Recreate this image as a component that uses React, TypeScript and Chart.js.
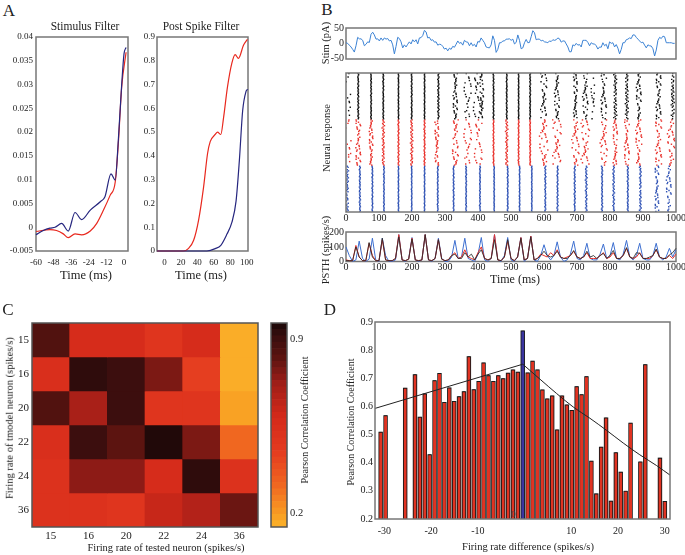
import React, { useEffect, useRef } from "react";
import { Chart, registerables } from "chart.js";

Chart.register(...registerables);

const FONT = "'Liberation Serif', 'Times New Roman', Times, serif";
const INK = "#222222";
const FRAME = "#777777";
const NAVY = "#26267f";
const RED_LINE = "#e8281e";

// ===== Panel A: filters =====
const stimFilterBlueTime = [-60, -55, -50.5, -47, -42.5, -38, -33.4, -28.9, -23, -16, -13, -8.9, -6, -3.9, -1.6, 0, 1.4];
const stimFilterBlue = [-0.0016, -0.0007, -0.0002, 0, 0.0008, -0.0008, 0.0031, 0.0016, 0.0036, 0.0054, 0.0064, 0.0112, 0.0099, 0.0183, 0.03, 0.0365, 0.0378];
const stimFilterRedTime = [-60, -50.5, -46, -41.4, -38, -33.4, -28.9, -23, -18.6, -14, -9.5, -6, -3.9, -1.6, 1.4];
const stimFilterRed = [-0.0009, -0.0005, -0.0007, -0.0014, -0.0022, -0.0014, -0.0016, -0.0008, 0.0008, 0.0036, 0.0067, 0.0095, 0.0176, 0.0295, 0.0368];
const stimFilterXTicks = [-60, -48, -36, -24, -12, 0];
const stimFilterYTicks = [-0.005, 0, 0.005, 0.01, 0.015, 0.02, 0.025, 0.03, 0.035, 0.04];

const postSpikeRedTime = [-9, 23, 29, 35.5, 41.5, 47.6, 52.4, 55.6, 61.7, 64.5, 68.5, 71.8, 76.6, 81.9, 85.9, 89.9, 96, 100.8];
const postSpikeRed = [0, 0, 0.01, 0.045, 0.13, 0.27, 0.41, 0.46, 0.49, 0.5, 0.49, 0.56, 0.69, 0.79, 0.826, 0.81, 0.865, 0.89];
const postSpikeBlueTime = [-9, 51.6, 61.7, 68.5, 75.8, 81.9, 87, 91, 95, 99, 101.2];
const postSpikeBlue = [0, 0, 0.01, 0.024, 0.07, 0.12, 0.21, 0.38, 0.59, 0.67, 0.68];
const postSpikeXTicks = [0, 20, 40, 60, 80, 100];
const postSpikeYTicks = [0, 0.1, 0.2, 0.3, 0.4, 0.5, 0.6, 0.7, 0.8, 0.9];

// ===== Panel B: stimulus, raster, PSTH =====
const STIM_DT = 5.055; // ms between stimulus samples
const stimulus = [2, 0, -6, -12, -20, -29, -8, 20, 15, 15, 10, -8, -3, 5, 3, 30, 37, 28, 14, 15, 8, 18, 10, 18, 14, 16, 8, 10, -5, -35, -10, 20, 16, 5, -15, -5, -12, -3, 5, -2, 12, 5, 12, -2, 18, 19, 26, 43, 38, 18, 20, 10, 12, 4, 5, -6, -3, -4, -10, -19, -16, -25, -16, -20, -10, -13, -3, 8, 0, 3, -6, 10, 5, 4, -8, 2, -8, -3, -12, 6, 4, 18, 10, 2, -12, -14, -15, -5, 25, 10, -30, -20, 2, 2, 8, 8, 14, 14, 15, 10, 14, -2, 3, 28, 10, -18, -15, 2, 13, 2, 3, 22, 42, 35, 12, 14, 14, 8, 10, 5, 4, 2, 8, 6, 12, 10, 12, 18, 15, 4, 8, 8, -2, -12, -28, -28, -5, -8, 0, -6, -4, -12, 10, 10, 10, 3, -8, 2, -2, -2, -8, -19, -12, -13, 2, -8, -3, -18, 5, 0, 2, -12, -4, -16, -35, -20, 2, 2, 12, 14, 18, 16, 28, 28, 20, 14, 8, 2, 4, -6, -15, -5, -8, -9, -18, -42, -22, 10, 20, 16, 24, 22, 2, 2, 2, 2, 0, 0];
const stimTicks = [-50, 0, 50];
const timeTicks = [0, 100, 200, 300, 400, 500, 600, 700, 800, 900, 1000];

const RASTER_TRIALS = 40;
const WIGGLE = [0, 0.3, 0.6, 0.8, 0.6, 0.3, 0.1, -0.2, -0.5, -0.7, -0.6, -0.3, 0, 0.2, 0.5, 0.7, 0.9, 0.7, 0.4, 0.1, -0.1, -0.4, -0.6, -0.8, -0.9, -0.6, -0.3, 0, 0.3, 0.5, 0.3, 0.1, -0.2, -0.4, -0.3, -0.1, 0.1];
const SCATTER = [0.1, -0.4, 0.7, -0.2, 0.3, -0.8, 0.5, 0.0, -0.6, 0.9, -0.1, 0.4, -0.7, 0.2, -0.3, 0.8, -0.5, 0.6, -0.9, 0.1, 0.3, -0.2, 0.7, -0.4, 0.0, 0.5, -0.8, 0.2, -0.6, 0.9, -0.3];
const KEEP = [0.12, 0.55, 0.83, 0.27, 0.64, 0.05, 0.91, 0.38, 0.72, 0.19, 0.47, 0.98, 0.33, 0.61, 0.08, 0.86, 0.42, 0.24, 0.69, 0.51, 0.95, 0.15, 0.77, 0.36, 0.58, 0.02, 0.88, 0.45, 0.67];
// [spike time (ms), jitter (ms), reliability]
const rasterBlack = [[8, 8, 0.25], [37, 2, 1], [76, 1.5, 1], [113, 1.5, 1], [159, 1, 1], [199, 1.5, 1], [238, 1, 1], [280, 2.5, 1], [331, 7, 0.95], [368, 12, 0.55], [396, 12, 0.6], [411, 6, 0.8], [447, 1.5, 1], [487, 1.5, 1], [523, 1, 1], [558, 1.5, 1], [599, 10, 0.85], [639, 8, 0.9], [695, 6, 0.9], [725, 9, 0.85], [748, 6, 0.4], [781, 9, 0.85], [816, 5, 0.95], [851, 5, 0.95], [887, 8, 0.9], [947, 8, 0.9], [990, 5, 0.9]];
const rasterRed = [[8, 10, 0.3], [37, 8, 0.9], [76, 6, 0.95], [113, 4, 1], [159, 2, 1], [199, 4, 1], [238, 2, 1], [275, 6, 0.9], [331, 10, 0.8], [368, 13, 0.6], [400, 13, 0.6], [447, 1.5, 1], [487, 4, 1], [523, 1.5, 1], [558, 1.5, 1], [599, 14, 0.85], [639, 14, 0.85], [695, 12, 0.8], [725, 14, 0.8], [781, 12, 0.8], [816, 7, 0.85], [851, 8, 0.85], [887, 10, 0.85], [947, 10, 0.85], [985, 12, 0.8]];
const rasterBlue = [[4, 4, 0.9], [42, 2, 1], [80, 1.5, 1], [115, 1.5, 1], [159, 1, 1], [199, 1, 1], [238, 1, 1], [278, 1.5, 1], [326, 1.5, 1], [364, 1.5, 1], [406, 1.5, 1], [449, 1, 1], [490, 1.5, 1], [526, 1, 1], [563, 1, 1], [604, 2, 1], [641, 2, 1], [693, 2, 1], [728, 3, 1], [776, 2, 1], [811, 3, 1], [854, 2, 1], [892, 3, 0.95], [942, 6, 0.9], [978, 8, 0.85]];

const PSTH_BIN = 10;
const psthBlue = [100, 40, 0, 10, 140, 20, 0, 15, 160, 10, 0, 160, 40, 0, 0, 10, 185, 10, 0, 20, 165, 10, 0, 10, 185, 10, 0, 20, 160, 20, 0, 0, 30, 145, 20, 30, 160, 20, 10, 0, 50, 165, 10, 0, 20, 185, 10, 0, 40, 165, 10, 0, 30, 165, 0, 20, 175, 10, 0, 40, 115, 40, 10, 40, 135, 30, 0, 10, 50, 140, 20, 10, 40, 125, 20, 10, 10, 50, 120, 20, 40, 130, 20, 10, 50, 145, 30, 10, 40, 125, 20, 10, 10, 40, 125, 30, 10, 30, 90, 30, 80];
const psthRed = [10, 5, 5, 110, 30, 5, 5, 125, 40, 5, 5, 150, 10, 5, 5, 20, 185, 10, 5, 15, 160, 10, 5, 10, 185, 10, 5, 20, 150, 15, 5, 10, 40, 60, 20, 30, 80, 30, 20, 10, 60, 100, 20, 10, 20, 185, 10, 5, 30, 140, 20, 5, 30, 165, 10, 20, 175, 10, 20, 50, 40, 30, 60, 40, 80, 30, 20, 30, 40, 70, 30, 20, 30, 60, 20, 20, 20, 40, 60, 20, 30, 60, 20, 20, 40, 90, 30, 20, 30, 60, 20, 20, 20, 40, 80, 30, 20, 20, 40, 20, 50];
const psthBlack = [5, 5, 5, 100, 30, 5, 5, 130, 30, 5, 5, 160, 10, 5, 5, 20, 170, 10, 5, 15, 155, 10, 5, 10, 185, 10, 5, 20, 150, 15, 5, 10, 40, 50, 20, 20, 60, 30, 50, 10, 50, 80, 20, 10, 20, 150, 10, 5, 30, 150, 20, 5, 30, 160, 10, 20, 170, 10, 20, 40, 70, 40, 30, 40, 70, 30, 20, 20, 40, 75, 30, 20, 30, 70, 30, 40, 20, 40, 55, 20, 40, 75, 20, 20, 40, 95, 30, 20, 60, 55, 20, 20, 30, 40, 85, 30, 20, 20, 45, 60, 90];
const psthTicks = [0, 100, 200];

// ===== Panel C: correlation matrix =====
const testedRates = ["15", "16", "20", "22", "24", "36"];
const modelRates = ["15", "16", "20", "22", "24", "36"];
const corrRow15 = [0.86, 0.57, 0.57, 0.5, 0.56, 0.17];
const corrRow16 = [0.55, 0.93, 0.91, 0.77, 0.44, 0.16];
const corrRow20 = [0.86, 0.7, 0.91, 0.5, 0.5, 0.18];
const corrRow22 = [0.55, 0.91, 0.82, 0.95, 0.77, 0.32];
const corrRow24 = [0.51, 0.76, 0.76, 0.56, 0.93, 0.51];
const corrRow36 = [0.51, 0.53, 0.5, 0.62, 0.66, 0.81];
const corrRows = [corrRow15, corrRow16, corrRow20, corrRow22, corrRow24, corrRow36];
const CB_MIN = 0.146;
const CB_MAX = 0.967;
const CB_LEVELS = 32;
const colorbarTicks = [0.2, 0.9];

// ===== Panel D: correlation vs rate difference =====
const corrByDiff = [0.51, 0.569, null, null, null, 0.666, null, 0.714, 0.563, 0.646, 0.43, 0.693, 0.719, 0.616, 0.667, 0.619, 0.636, 0.654, 0.778, 0.661, 0.69, 0.756, 0.711, 0.69, 0.711, 0.7, 0.72, 0.731, 0.723, 0.87, 0.721, 0.762, 0.731, 0.66, 0.628, 0.639, 0.518, 0.639, 0.607, 0.587, 0.672, 0.643, 0.707, 0.407, 0.291, 0.457, 0.561, 0.265, 0.437, 0.368, 0.3, 0.542, null, 0.404, 0.75, null, null, 0.418, 0.264];
const SAME_RATE_SLOT = 29;
const fitRiseSlot = [-1.16, 29];
const fitRise = [0.593, 0.75];
const fitFallSlot = [29, 32.5, 35.9, 39.3, 42.7, 46.1, 49.5, 52.9, 56.3, 59.05];
const fitFall = [0.75, 0.697, 0.646, 0.598, 0.558, 0.515, 0.47, 0.428, 0.39, 0.356];
const diffTicks = [-30, -20, -10, 10, 20, 30];
const ZERO_LABEL_AT = -2.4;
const corrTicks = [0.2, 0.3, 0.4, 0.5, 0.6, 0.7, 0.8, 0.9];

// ---------- helpers ----------
const CMAP_STOPS: [number, string][] = [
  [0.146, "#fbb22a"], [0.185, "#f9a224"], [0.318, "#f06520"], [0.454, "#e43a20"],
  [0.587, "#d42a1a"], [0.72, "#a01e18"], [0.82, "#5e1410"], [0.908, "#3a0e0e"], [0.967, "#1a0808"],
];
function hexToRgb(h: string) {
  return [parseInt(h.slice(1, 3), 16), parseInt(h.slice(3, 5), 16), parseInt(h.slice(5, 7), 16)];
}
function cmapRaw(v: number) {
  if (v <= CMAP_STOPS[0][0]) return CMAP_STOPS[0][1];
  for (let i = 1; i < CMAP_STOPS.length; i++) {
    const [v1, c1] = CMAP_STOPS[i];
    const [v0, c0] = CMAP_STOPS[i - 1];
    if (v <= v1) {
      const t = (v - v0) / (v1 - v0);
      const a = hexToRgb(c0), b = hexToRgb(c1);
      const m = a.map((x, k) => Math.round(x + (b[k] - x) * t));
      return `rgb(${m[0]},${m[1]},${m[2]})`;
    }
  }
  return CMAP_STOPS[CMAP_STOPS.length - 1][1];
}
function cmap(v: number) {
  const step = (CB_MAX - CB_MIN) / CB_LEVELS;
  let idx = Math.floor((v - CB_MIN) / step);
  idx = Math.max(0, Math.min(CB_LEVELS - 1, idx));
  return cmapRaw(CB_MIN + (idx + 0.5) * step);
}

function pts(xs: number[], ys: number[]) {
  return xs.map((x, i) => ({ x, y: ys[i] }));
}

function rasterPoints(events: number[][], rowOffset: number) {
  const out: { x: number; y: number }[] = [];
  events.forEach(([t, sp, rel], c) => {
    for (let r = 0; r < RASTER_TRIALS; r++) {
      if (KEEP[(r * 3 + c * 7) % KEEP.length] > rel) continue;
      const j = sp >= 6 ? SCATTER[(r * 7 + c * 5) % SCATTER.length] : WIGGLE[(r * 4 + c * 11) % WIGGLE.length];
      out.push({ x: t + sp * j, y: rowOffset + (RASTER_TRIALS - 1 - r) });
    }
  });
  return out;
}

type AxisOpts = {
  min?: number; max?: number; ticks?: number[]; fmt?: (v: number) => string; size?: number;
  pad?: number; fit?: number; display?: boolean; position?: string; type?: string; offset?: boolean; axis?: string;
};
function axis(o: AxisOpts, isX: boolean) {
  const tickOpts: any = {
    display: true, autoSkip: false, maxRotation: 0, minRotation: 0,
    padding: o.pad ?? 3, color: INK, font: { family: FONT, size: o.size ?? 10 },
  };
  if (o.fmt) tickOpts.callback = (v: any) => o.fmt!(Number(v));
  const a: any = {
    type: o.type ?? "linear",
    display: o.display ?? true,
    offset: o.offset ?? false,
    grid: { display: false, drawTicks: false, offset: o.offset ?? false },
    border: { display: false },
    ticks: tickOpts,
    afterFit: (s: any) => {
      if (o.fit !== undefined) {
        if (isX) s.height = o.fit; else s.width = o.fit;
      }
      s.paddingLeft = 0; s.paddingRight = 0; s.paddingTop = 0; s.paddingBottom = 0;
    },
  };
  if (o.axis) a.axis = o.axis;
  if (o.position) a.position = o.position;
  if (o.min !== undefined) a.min = o.min;
  if (o.max !== undefined) a.max = o.max;
  if (o.ticks) a.afterBuildTicks = (s: any) => { s.ticks = o.ticks!.map((v) => ({ value: v })); };
  return a;
}

const plain = (v: number) => String(v);

const framePlugin = {
  id: "frame",
  beforeDatasetsDraw(chart: any, _a: any, o: any) { if (o && o.color && !o.onTop) drawFrame(chart, o); },
  afterDatasetsDraw(chart: any, _a: any, o: any) { if (o && o.color && o.onTop) drawFrame(chart, o); },
};
function drawFrame(chart: any, o: any) {
  const { ctx, chartArea: a } = chart;
  ctx.save();
  ctx.strokeStyle = o.color;
  ctx.lineWidth = o.width ?? 1.5;
  ctx.strokeRect(a.left, a.top, a.right - a.left, a.bottom - a.top);
  ctx.restore();
}

const zeroLabelPlugin = {
  id: "zeroLabel",
  afterDatasetsDraw(chart: any) {
    const { ctx, chartArea: a } = chart;
    const sx = chart.scales.x2;
    ctx.save();
    ctx.fillStyle = "#444";
    ctx.font = `9px ${FONT}`;
    ctx.textAlign = "center";
    ctx.textBaseline = "bottom";
    ctx.fillText("0", sx.getPixelForValue(ZERO_LABEL_AT), a.bottom);
    ctx.restore();
  },
};

function base(padding: any, frame: any) {
  return {
    animation: false, responsive: false, maintainAspectRatio: false, events: [],
    layout: { padding },
    plugins: { legend: { display: false }, tooltip: { enabled: false }, title: { display: false }, frame },
  };
}

function lineDs(xs: number[], ys: number[], color: string, width: number, extra: any = {}) {
  return { type: "line", data: pts(xs, ys), borderColor: color, backgroundColor: color, borderWidth: width, pointRadius: 0, fill: false, clip: 3, ...extra };
}

// ---------- configs ----------
const cfgStimFilter = () => ({
  type: "line",
  data: {
    datasets: [
      lineDs(stimFilterBlueTime, stimFilterBlue, NAVY, 1.2, { cubicInterpolationMode: "monotone" }),
      lineDs(stimFilterRedTime, stimFilterRed, RED_LINE, 1.2, { cubicInterpolationMode: "monotone" }),
    ],
  },
  options: {
    ...base({ top: 7, right: 6, bottom: 0, left: 0 }, { color: FRAME, width: 1.5 }),
    scales: {
      x: axis({ min: -60, max: 2.7, ticks: stimFilterXTicks, size: 9, pad: 6, fit: 34, fmt: plain }, true),
      y: axis({ min: -0.005, max: 0.04, ticks: stimFilterYTicks, size: 9, pad: 3, fit: 36, fmt: (v) => String(Number(v.toFixed(3))) }, false),
    },
  },
  plugins: [framePlugin],
});

const cfgPostSpike = () => ({
  type: "line",
  data: {
    datasets: [
      lineDs(postSpikeBlueTime, postSpikeBlue, NAVY, 1.2, { cubicInterpolationMode: "monotone" }),
      lineDs(postSpikeRedTime, postSpikeRed, RED_LINE, 1.2, { cubicInterpolationMode: "monotone" }),
    ],
  },
  options: {
    ...base({ top: 7, right: 6, bottom: 0, left: 0 }, { color: FRAME, width: 1.5 }),
    scales: {
      x: axis({ min: -9, max: 101.5, ticks: postSpikeXTicks, size: 9, pad: 6, fit: 34, fmt: plain }, true),
      y: axis({ min: 0, max: 0.9, ticks: postSpikeYTicks, size: 9, pad: 2, fit: 25, fmt: (v) => (v === 0 ? "0" : v.toFixed(1)) }, false),
    },
  },
  plugins: [framePlugin],
});

const cfgStim = () => ({
  type: "line",
  data: {
    datasets: [lineDs(stimulus.map((_, i) => i * STIM_DT), stimulus, "#3b82d4", 1)],
  },
  options: {
    ...base({ top: 8, right: 9, bottom: 3, left: 0 }, { color: FRAME, width: 1.5 }),
    scales: {
      x: axis({ min: 0, max: 1000, display: false }, true),
      y: axis({ min: -52, max: 51, ticks: stimTicks, size: 10, pad: 2, fit: 36, fmt: plain }, false),
    },
  },
  plugins: [framePlugin],
});

const rasterDot = { pointRadius: 1, pointStyle: "rect", pointBorderWidth: 0 };
const cfgRaster = () => ({
  type: "scatter",
  data: {
    datasets: [
      { data: rasterPoints(rasterBlack, 80), backgroundColor: "#111111", ...rasterDot },
      { data: rasterPoints(rasterRed, 40), backgroundColor: "#e8302a", ...rasterDot },
      { data: rasterPoints(rasterBlue, 0), backgroundColor: "#2f52b4", ...rasterDot },
    ],
  },
  options: {
    ...base({ top: 7, right: 9, bottom: 0, left: 36 }, { color: FRAME, width: 1.5, onTop: true }),
    scales: {
      x: axis({ min: 0, max: 1000, ticks: timeTicks, size: 10, pad: 0, fit: 14, fmt: plain }, true),
      y: axis({ min: -0.5, max: 3 * RASTER_TRIALS - 0.5, display: false }, false),
    },
  },
  plugins: [framePlugin],
});

const cfgPsth = () => {
  const t = psthBlue.map((_, i) => i * PSTH_BIN);
  return {
    type: "line",
    data: {
      datasets: [
        lineDs(t, psthBlack, "rgba(40,40,40,0.85)", 1),
        lineDs(t, psthRed, "#e8302a", 1),
        lineDs(t, psthBlue, "#3d6fd0", 1),
      ],
    },
    options: {
      ...base({ top: 6, right: 9, bottom: 0, left: 0 }, { color: FRAME, width: 1.5 }),
      scales: {
        x: axis({ min: 0, max: 1000, ticks: timeTicks, size: 10, pad: 0, fit: 14.5, fmt: plain }, true),
        y: axis({ min: -1, max: 203, ticks: psthTicks, size: 10, pad: 2, fit: 36, fmt: plain }, false),
      },
    },
    plugins: [framePlugin],
  };
};

const cfgHeatmap = () => ({
  type: "bar",
  data: {
    labels: testedRates,
    datasets: corrRows.map((row, r) => ({
      data: row.map(() => [modelRates.length - 1 - r, modelRates.length - r]),
      backgroundColor: row.map((v) => cmap(v)),
      borderWidth: 0,
      barPercentage: 1,
      categoryPercentage: 1,
      grouped: false,
    })),
  },
  options: {
    ...base({ top: 8, right: 4, bottom: 0, left: 0 }, { color: "#555555", width: 1.5, onTop: true }),
    scales: {
      x: axis({ type: "category", offset: true, size: 11, pad: 3, fit: 20 }, true),
      y: axis({
        min: 0, max: modelRates.length, ticks: [0.5, 1.5, 2.5, 3.5, 4.5, 5.5], size: 11, pad: 3, fit: 32,
        fmt: (v) => modelRates[modelRates.length - 1 - Math.floor(v)],
      }, false),
    },
  },
  plugins: [framePlugin],
});

const cfgColorbar = () => {
  const step = (CB_MAX - CB_MIN) / CB_LEVELS;
  const bands = Array.from({ length: CB_LEVELS }, (_, i) => i);
  return {
    type: "bar",
    data: {
      labels: [""],
      datasets: bands.map((i) => ({
        data: [[CB_MIN + i * step, CB_MIN + (i + 1) * step]],
        backgroundColor: cmapRaw(CB_MIN + (i + 0.5) * step),
        borderWidth: 0,
        barPercentage: 1,
        categoryPercentage: 1,
        grouped: false,
      })),
    },
    options: {
      ...base({ top: 8, right: 0, bottom: 20, left: 9 }, { color: "#555555", width: 1.5, onTop: true }),
      scales: {
        x: axis({ type: "category", offset: true, display: false }, true),
        y: axis({ min: CB_MIN, max: CB_MAX, ticks: colorbarTicks, position: "right", size: 10.5, pad: 3, fit: 25, fmt: (v) => v.toFixed(1) }, false),
      },
    },
    plugins: [framePlugin],
  };
};

const cfgDiff = () => {
  const bars: { x: number; y: number }[] = [];
  const barColors: string[] = [];
  corrByDiff.forEach((v, k) => {
    if (v === null) return;
    bars.push({ x: k, y: v });
    barColors.push(k === SAME_RATE_SLOT ? "#3a34a0" : "#e03322");
  });
  return {
    type: "bar",
    data: {
      datasets: [
        { type: "line", data: pts(fitRiseSlot, fitRise), borderColor: "#222", borderWidth: 1, pointRadius: 0, order: 0, xAxisID: "x", yAxisID: "y" },
        { type: "line", data: pts(fitFallSlot, fitFall), borderColor: "#222", borderWidth: 1, pointRadius: 0, order: 0, cubicInterpolationMode: "monotone", xAxisID: "x", yAxisID: "y" },
        {
          // coloured body of each bar, with a dark top edge
          type: "bar", data: bars, order: 1, xAxisID: "x", yAxisID: "y", grouped: false,
          backgroundColor: barColors, borderColor: "#1a1a1a",
          borderWidth: { top: 1, left: 0, right: 0, bottom: 0 }, borderSkipped: "start",
          barPercentage: 0.62, categoryPercentage: 1, inflateAmount: 0,
        },
        {
          // dark outline behind each bar
          type: "bar", data: bars, order: 2, xAxisID: "x", yAxisID: "y", grouped: false,
          backgroundColor: "#1a1a1a", borderWidth: 0,
          barPercentage: 0.9, categoryPercentage: 1, inflateAmount: 0,
        },
      ],
    },
    options: {
      ...base({ top: 10, right: 15, bottom: 0, left: 0 }, { color: FRAME, width: 1.5, onTop: true }),
      scales: {
        x: axis({ min: -1.16, max: 59.05, display: false }, true),
        x2: axis({ axis: "x", position: "bottom", min: -32, max: 31.1, ticks: diffTicks, size: 10, pad: 6, fit: 25, fmt: plain }, true),
        y: axis({ min: 0.2, max: 0.9, ticks: corrTicks, size: 10, pad: 2, fit: 35, fmt: (v) => v.toFixed(1) }, false),
      },
    },
    plugins: [framePlugin, zeroLabelPlugin],
  };
};

// ---------- components ----------
function ChartCanvas({ left, top, width, height, config }: { left: number; top: number; width: number; height: number; config: () => any }) {
  const ref = useRef<HTMLCanvasElement>(null);
  useEffect(() => {
    const chart = new Chart(ref.current as HTMLCanvasElement, config());
    return () => chart.destroy();
  }, []);
  return <canvas ref={ref} width={width} height={height} style={{ position: "absolute", left, top, width, height }} />;
}

function Text({ x, y, size, rotate, children }: { x: number; y: number; size: number; rotate?: boolean; children: any }) {
  return (
    <div
      style={{
        position: "absolute", left: x, top: y, transform: `translate(-50%, -50%)${rotate ? " rotate(-90deg)" : ""}`,
        whiteSpace: "nowrap", fontFamily: FONT, fontSize: size, lineHeight: 1, color: INK,
      }}
    >
      {children}
    </div>
  );
}

export default function App() {
  return (
    <div style={{ position: "absolute", left: 0, top: 0, width: 685, height: 555, background: "#ffffff", overflow: "hidden" }}>
      <ChartCanvas left={0} top={30} width={134} height={255} config={cfgStimFilter} />
      <ChartCanvas left={132} top={30} width={122} height={255} config={cfgPostSpike} />
      <ChartCanvas left={310} top={20} width={375} height={42} config={cfgStim} />
      <ChartCanvas left={310} top={66} width={375} height={160} config={cfgRaster} />
      <ChartCanvas left={310} top={226} width={375} height={50} config={cfgPsth} />
      <ChartCanvas left={0} top={315} width={262} height={232} config={cfgHeatmap} />
      <ChartCanvas left={262} top={315} width={50} height={232} config={cfgColorbar} />
      <ChartCanvas left={340} top={312} width={345} height={232} config={cfgDiff} />

      <Text x={9} y={10} size={17}>A</Text>
      <Text x={327} y={9} size={17}>B</Text>
      <Text x={8} y={309} size={17}>C</Text>
      <Text x={330} y={309} size={17}>D</Text>

      <Text x={85} y={27} size={11.5}>Stimulus Filter</Text>
      <Text x={201} y={27} size={11.5}>Post Spike Filter</Text>
      <Text x={86} y={275} size={12.5}>Time (ms)</Text>
      <Text x={201} y={275} size={12.5}>Time (ms)</Text>

      <Text x={326} y={43} size={10.5} rotate>Stim (pA)</Text>
      <Text x={327} y={138} size={10.5} rotate>Neural response</Text>
      <Text x={326} y={250} size={10.5} rotate>PSTH (spikes/s)</Text>
      <Text x={515} y={279} size={12}>Time (ms)</Text>

      <Text x={10} y={418} size={10.5} rotate>Firing rate of tmodel neuron (spikes/s)</Text>
      <Text x={166} y={548} size={10.5}>Firing rate of tested neuron (spikes/s)</Text>
      <Text x={304.5} y={420} size={10} rotate>Pearson Correlation Coefficient</Text>

      <Text x={351} y={422} size={10} rotate>Pearson Correlation Coefficient</Text>
      <Text x={528} y={547} size={10.5}>Firing rate difference (spikes/s)</Text>
    </div>
  );
}
